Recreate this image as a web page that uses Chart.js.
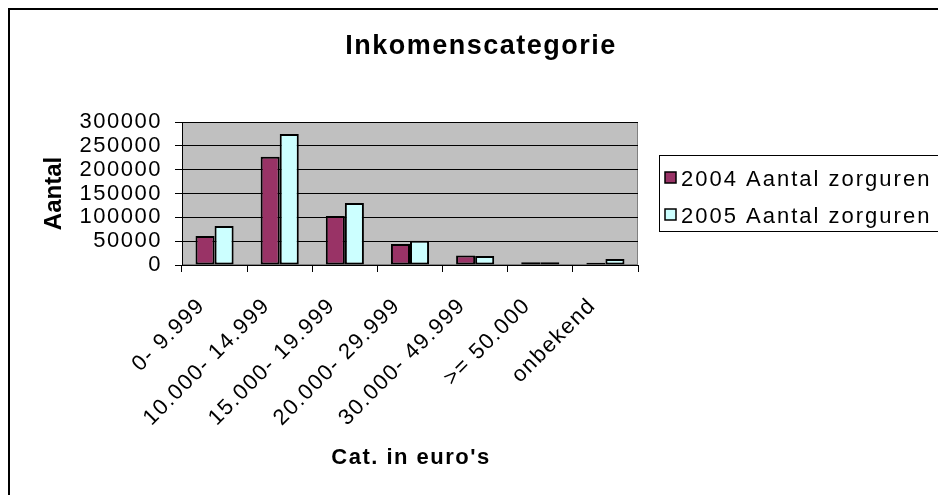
<!DOCTYPE html>
<html lang="nl">
<head>
<meta charset="utf-8">
<title>Inkomenscategorie</title>
<script src="https://cdn.jsdelivr.net/npm/chart.js@4.4.1/dist/chart.umd.min.js"></script>
<style>
    html, body { margin: 0; padding: 0; background: #fff; }
    canvas { display: block; }
</style>
</head>
<body>
<canvas id="incomeChart" width="938" height="495"></canvas>
<script>
const categories = ["0- 9.999", "10.000- 14.999", "15.000- 19.999", "20.000- 29.999", "30.000- 49.999", ">= 50.000", "onbekend"];
const seriesLabels = ["2004 Aantal zorguren", "2005 Aantal zorguren"];
const zorguren2004 = [61000, 227000, 103000, 44000, 19800, 6000, 4500];
const zorguren2005 = [82000, 275000, 130000, 51000, 18800, 6000, 12500];
const yMin = 0;
const yMax = 300000;
const yStep = 50000;

const chartTitle = "Inkomenscategorie";
const xTitle = "Cat. in euro's";
const yTitle = "Aantal";

const FONT = "'Liberation Sans', Arial, Helvetica, sans-serif";

// excel-ish look: grey plot area, border, titles and legend box
const excelFrame = {
    id: "excelFrame",
    beforeDraw(chart) {
        const ctx = chart.ctx;
        const a = chart.chartArea;
        ctx.save();
        ctx.fillStyle = "#ffffff";
        ctx.fillRect(0, 0, chart.width, chart.height);
        ctx.fillStyle = "#c0c0c0";
        ctx.fillRect(a.left, a.top, a.right - a.left, a.bottom - a.top);
        ctx.strokeStyle = "#808080";
        ctx.lineWidth = 1;
        ctx.strokeRect(a.left + 0.5, a.top + 0.5, a.right - a.left - 1, a.bottom - a.top - 1);
        ctx.restore();
        // GDI text comes out wider than the plain font, so spread the letters a bit
        ctx.letterSpacing = "1.5px";
    },
    afterDraw(chart) {
        const ctx = chart.ctx;
        const a = chart.chartArea;
        ctx.save();

        // outer chart border (right and bottom are cut off in the picture)
        ctx.strokeStyle = "#000";
        ctx.lineWidth = 2;
        ctx.beginPath();
        ctx.moveTo(9, chart.height + 2);
        ctx.lineTo(9, 9);
        ctx.lineTo(chart.width + 2, 9);
        ctx.stroke();

        ctx.fillStyle = "#000";
        ctx.textBaseline = "alphabetic";

        // title
        ctx.letterSpacing = "1.5px";
        ctx.font = "bold 27px " + FONT;
        ctx.textAlign = "center";
        ctx.fillText(chartTitle, 481, 54);

        // axis titles
        ctx.font = "bold 22px " + FONT;
        ctx.fillText(xTitle, (a.left + a.right) / 2 + 1, 464);

        ctx.save();
        ctx.letterSpacing = "0px";
        ctx.translate(61, (a.top + a.bottom) / 2);
        ctx.rotate(-Math.PI / 2);
        ctx.font = "bold 24px " + FONT;
        ctx.fillText(yTitle, 0, 0);
        ctx.restore();

        // legend
        ctx.lineWidth = 1;
        ctx.strokeStyle = "#000";
        ctx.strokeRect(659.5, 155.5, 300, 76);
        ctx.letterSpacing = "2px";
        ctx.font = "22px " + FONT;
        ctx.textAlign = "left";
        chart.data.datasets.forEach((ds, i) => {
            const baseY = 186 + i * 37;
            ctx.fillStyle = ds.backgroundColor;
            ctx.fillRect(665, baseY - 14, 11, 11);
            ctx.lineWidth = 1.5;
            ctx.strokeRect(665, baseY - 14, 11, 11);
            ctx.fillStyle = "#000";
            ctx.fillText(ds.label, 681, baseY);
        });

        ctx.restore();
        ctx.letterSpacing = "0px";
    }
};

function createIncomeChart() {
    const ctx = document.getElementById("incomeChart").getContext("2d");
    Chart.defaults.font.family = FONT;
    Chart.defaults.color = "#000";

    return new Chart(ctx, {
        type: "bar",
        data: {
            labels: categories,
            datasets: [
                {
                    label: seriesLabels[0],
                    data: zorguren2004,
                    backgroundColor: "#993366",
                    borderColor: "#000",
                    borderWidth: 2,
                    borderSkipped: false
                },
                {
                    label: seriesLabels[1],
                    data: zorguren2005,
                    backgroundColor: "#ccffff",
                    borderColor: "#000",
                    borderWidth: 2,
                    borderSkipped: false
                }
            ]
        },
        options: {
            responsive: false,
            devicePixelRatio: 1,
            animation: false,
            layout: { padding: { left: 0, top: 122, right: 300, bottom: 0 } },
            datasets: { bar: { categoryPercentage: 0.585, barPercentage: 1 } },
            plugins: {
                legend: { display: false },
                title: { display: false },
                tooltip: { enabled: false }
            },
            scales: {
                x: {
                    grid: { drawOnChartArea: false, drawTicks: true, tickLength: 7, color: "#000", lineWidth: 1 },
                    border: { display: true, color: "#000", width: 1 },
                    ticks: {
                        font: { size: 22 },
                        color: "#000",
                        autoSkip: false,
                        minRotation: 45,
                        maxRotation: 45,
                        padding: 21,
                        labelOffset: -13
                    },
                    afterFit(scale) { scale.height = 230; }
                },
                y: {
                    min: yMin,
                    max: yMax,
                    grid: { color: "#000", lineWidth: 1, tickLength: 7, drawTicks: true },
                    border: { display: true, color: "#000", width: 1 },
                    ticks: {
                        stepSize: yStep,
                        font: { size: 22 },
                        color: "#000",
                        padding: 13,
                        autoSkip: false,
                        callback: (value) => String(value)
                    },
                    afterFit(scale) { scale.width = 182; }
                }
            }
        },
        plugins: [excelFrame]
    });
}

document.addEventListener("DOMContentLoaded", createIncomeChart);
</script>
</body>
</html>
